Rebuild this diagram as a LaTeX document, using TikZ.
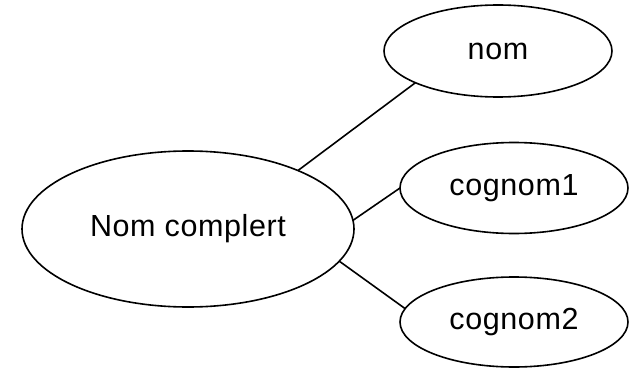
\documentclass[tikz,border=0pt]{standalone}
\usepackage{fontspec}
\setmainfont{Liberation Sans}[LetterSpace=2]
\usetikzlibrary{shapes.geometric}
\tikzset{
  ent/.style={draw=black, line width=1.6pt, ellipse, inner sep=0pt, outer sep=0pt,
    font=\fontsize{30.5}{35}\selectfont},
  link/.style={draw=black, line width=1.6pt}
}
\begin{document}
\begin{tikzpicture}[x=1pt,y=-1pt]
\useasboundingbox (0,0) rectangle (635,369);
\node[ent, minimum width=332pt, minimum height=156pt] (full) at (188,229) {Nom complert};
\node[ent, minimum width=228pt, minimum height=92pt] (nom) at (498,51) {nom};
\node[ent, minimum width=228pt, minimum height=91pt] (c1) at (514,188) {cognom1};
\node[ent, minimum width=228pt, minimum height=90pt] (c2) at (514,322) {cognom2};
\draw[link] (full.28.5) -- (nom.201);
\draw[link] (full.3.8) -- (c1.180);
\draw[link] (full.-12.4) -- (c2.173);
\end{tikzpicture}
\end{document}
